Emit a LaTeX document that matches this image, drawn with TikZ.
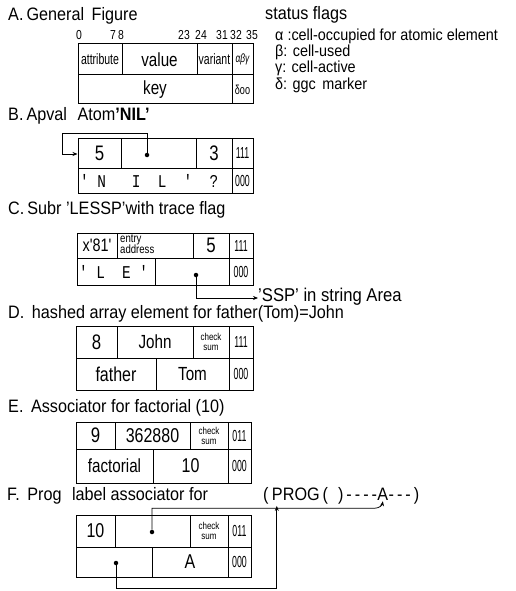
\documentclass[tikz,border=0pt]{standalone}
\usepackage{fontspec}
\setmainfont{Liberation Sans}[FakeStretch=0.9]
\setmonofont{Liberation Mono}[FakeStretch=0.8]
\newfontfamily\cellf{Liberation Sans}[FakeStretch=0.8]
\newfontfamily\narf{Liberation Sans}[FakeStretch=0.7]
\newfontfamily\vnarf{Liberation Sans}[FakeStretch=0.55]
\usetikzlibrary{arrows.meta}
\newcommand\fsz[1]{\fontsize{#1}{#1}\selectfont}
\newcommand{\mkcell}[7]{%
  \pgfmathsetmacro\cw{#4-#2}\pgfmathsetmacro\ch{#5-#3}%
  \pgfmathsetmacro\cx{(#2+#4)/2}\pgfmathsetmacro\cy{(#3+#5)/2}%
  \node[cell,minimum width=\cw pt,minimum height=\ch pt,#7] (#1) at (\cx,\cy) {#6};}
\begin{document}
\begin{tikzpicture}[x=1pt,y=-1pt,
  title/.style={anchor=base west, inner sep=0pt, font=\fsz{18}},
  flag/.style={anchor=base west, inner sep=0pt, font=\fsz{16}},
  bit/.style={anchor=base, inner sep=0pt, font=\cellf\fsz{13}},
  cell/.style={draw, rectangle, inner sep=0pt, line width=1pt, font=\cellf\fsz{19}},
  flg/.style={font=\vnarf\fsz{16}},
  narrow/.style={font=\narf\fsz{15}},
  tiny/.style={font=\cellf\fsz{10}, align=center},
  dotn/.style={circle, fill, inner sep=0pt, minimum size=4.5pt},
  conn/.style={line width=0.75pt},
  arr/.style={conn, -{Stealth[length=5pt,width=4pt]}}]
\useasboundingbox (0,0) rectangle (515,591);

% ---------- A ----------
\node[title] (tA) at (8,21) {A.\,General\, Figure};
\node[bit] (n0) at (79,40) {0};
\node[bit] (n78) at (117,40) {7\,8};
\node[bit] (n23) at (184,40) {23};
\node[bit] (n24) at (201,40) {24};
\node[bit] (n31) at (222,40) {31};
\node[bit] (n32) at (236,40) {32};
\node[bit] (n35) at (252,40) {35};
\mkcell{a11}{78}{44}{122}{75}{attribute}{narrow}
\mkcell{a12}{122}{44}{197}{75}{value}{}
\mkcell{a13}{197}{44}{232}{75}{variant}{narrow}
\mkcell{a14}{232}{44}{253}{75}{\itshape αβγ}{font=\narf\fsz{12}}
\mkcell{a21}{78}{75}{232}{104}{key}{}
\mkcell{a22}{232}{75}{253}{104}{δoo}{font=\narf\fsz{13}}

\node[title] (tS) at (265,20) {status flags};
\node[flag] (fa) at (275,41) {α :cell-occupied for atomic element};
\node[flag] (fb) at (275,57) {β: cell-used};
\node[flag] (fg) at (275,73) {γ: cell-active};
\node[flag] (fd) at (275,90) {δ: ggc\, marker};

% ---------- B ----------
\node[title] (tB) at (8,121) {B.\,Apval\,\, Atom{\bfseries'NIL'}};
\mkcell{b11}{78}{138}{121}{168}{5}{font=\cellf\fsz{21}}
\mkcell{b12}{121}{138}{196}{168}{}{}
\mkcell{b13}{196}{138}{232}{168}{3}{font=\cellf\fsz{21}}
\mkcell{b14}{232}{138}{253}{168}{111}{flg}
\mkcell{b21}{78}{168}{232}{193}{\makebox[150pt][l]{\ttfamily '{}~N~~~I~~L~~'~~?}}{font=\fsz{18}}
\mkcell{b22}{232}{168}{253}{193}{000}{flg}
\node[dotn] (bdot) at (147,155) {};
\coordinate (bc1) at (62,133);
\draw[arr] (bdot) |- (bc1) |- ([yshift=-1pt]b11.west);

% ---------- C ----------
\node[title] (tC) at (8,214) {C.\,Subr 'LESSP'with trace flag};
\mkcell{c11}{77}{233}{117}{258}{x'81'}{font=\cellf\fsz{18}}
\mkcell{c12}{117}{233}{193}{258}{}{}
\node[anchor=north west, inner sep=0pt, font=\cellf\fsz{12}, align=left] (ctx) at (120,235) {entry\\[-1pt]address};
\mkcell{c13}{193}{233}{229}{258}{5}{font=\cellf\fsz{21}}
\mkcell{c14}{229}{233}{253}{258}{111}{flg}
\mkcell{c21}{77}{258}{155}{285}{\makebox[74pt][l]{\ttfamily '~L~~E~'}}{font=\fsz{18}}
\mkcell{c22}{155}{258}{229}{285}{}{}
\mkcell{c23}{229}{258}{253}{285}{000}{flg}
\node[dotn] (cdot) at (196,275) {};
\node[anchor=base west, inner sep=0pt, font=\fsz{18.5}] (ssp) at (258,301) {'SSP' in string Area};
\draw[arr] (cdot) |- ([yshift=3pt]ssp.base west);

% ---------- D ----------
\node[title] (tD) at (8,318) {D.\, hashed array element for father(Tom)=John};
\mkcell{d11}{76}{326}{117}{358}{8}{font=\cellf\fsz{21}}
\mkcell{d12}{117}{326}{193}{358}{John}{}
\mkcell{d13}{193}{326}{229}{358}{check\\sum}{tiny}
\mkcell{d14}{229}{326}{253}{358}{111}{flg}
\mkcell{d21}{76}{358}{156}{390}{father}{font=\cellf\fsz{20}}
\mkcell{d22}{156}{358}{229}{390}{Tom}{}
\mkcell{d23}{229}{358}{253}{390}{000}{flg}

% ---------- E ----------
\node[title] (tE) at (8,412) {E.\, Associator for factorial (10)};
\mkcell{e11}{76}{422}{115}{449}{9}{font=\cellf\fsz{21}}
\mkcell{e12}{115}{422}{190}{449}{362880}{font=\cellf\fsz{20}}
\mkcell{e13}{190}{422}{228}{449}{check\\sum}{tiny}
\mkcell{e14}{228}{422}{251}{449}{011}{flg}
\mkcell{e21}{76}{449}{153}{483}{factorial}{}
\mkcell{e22}{153}{449}{228}{483}{10}{font=\cellf\fsz{20}}
\mkcell{e23}{228}{449}{251}{483}{000}{flg}

% ---------- F ----------
\node[title] (tF) at (7,500) {F.\, Prog\,\, label associator for};
\node[title] (pO) at (263,500) {(\,};
\node[title] (pP) at (pO.base east) {PROG\,(\;\;)\,-\,-\,-\,-};
\node[title] (pA) at (pP.base east) {A};
\node[title] (pE) at (pA.base east) {-\,-\,-\,)};
\mkcell{f11}{76}{515}{115}{547}{10}{font=\cellf\fsz{20}}
\mkcell{f12}{115}{515}{190}{547}{}{}
\mkcell{f13}{190}{515}{228}{547}{check\\sum}{tiny}
\mkcell{f14}{228}{515}{251}{547}{011}{flg}
\mkcell{f21}{76}{547}{152}{577}{}{}
\mkcell{f22}{152}{547}{228}{577}{A}{font=\cellf\fsz{20}}
\mkcell{f23}{228}{547}{251}{577}{000}{flg}
\node[dotn] (fdot1) at (152,532) {};
\node[dotn] (fdot2) at (116,563) {};
\coordinate (fturn) at ([xshift=-8pt,yshift=-8pt]pA.south);
\draw[arr] (fdot1) |- (fturn) to[out=0,in=-100] ([yshift=-1pt]pA.south);
\coordinate (ptgt) at ([xshift=5pt,yshift=-2pt]pP.south west);
\coordinate (fbot) at (ptgt |- 0,588);
\draw[arr] (fdot2) |- (fbot) -- (ptgt);
\end{tikzpicture}
\end{document}
